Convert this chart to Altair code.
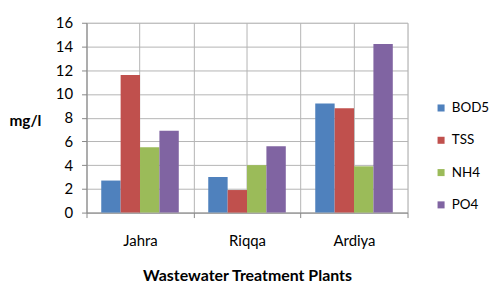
import altair as alt
import pandas as pd

plants = ["Jahra", "Riqqa", "Ardiya"]
params = ["BOD5", "TSS", "NH4", "PO4"]
bod5 = [2.7, 3.0, 9.2]
tss = [11.6, 1.9, 8.8]
nh4 = [5.5, 4.0, 3.9]
po4 = [6.9, 5.6, 14.2]
colors = ["#4F81BD", "#C0504D", "#9BBB59", "#8064A2"]

rows = []
for name, vals in zip(params, [bod5, tss, nh4, po4]):
    for p, v in zip(plants, vals):
        rows.append({"plant": p, "param": name, "value": v})
df = pd.DataFrame(rows)

FONT = "Lato"

xscale = alt.Scale(domain=plants, paddingInner=0, paddingOuter=0)

bars = alt.Chart(df).mark_bar().encode(
    x=alt.X("plant:N", scale=xscale, sort=plants,
            axis=alt.Axis(title="Wastewater Treatment Plants", labelAngle=0, orient="bottom",
                          tickBand="extent", tickExtra=True, grid=True, gridColor="#b4b4b4",
                          domainColor="#888888", tickColor="#888888", tickSize=5,
                          labelPadding=16, titlePadding=19,
                          labelFontSize=15, titleFontSize=16, labelFont=FONT,
                          titleFont=FONT, titleFontWeight="bold", labelColor="#000",
                          titleColor="#000")),
    xOffset=alt.XOffset("param:N", sort=params,
                        scale=alt.Scale(domain=params, paddingInner=0, paddingOuter=0.76)),
    y=alt.Y("value:Q", scale=alt.Scale(domain=[0, 16]),
            axis=alt.Axis(title="mg/l", values=list(range(0, 17, 2)), titleAngle=0,
                          titleX=-62, titleY=98, titleAlign="center", titleBaseline="middle",
                          grid=True, gridColor="#b4b4b4", domainColor="#888888",
                          tickColor="#888888", tickSize=5, labelPadding=9,
                          labelFontSize=15, titleFontSize=15.5, labelFont=FONT,
                          titleFont=FONT, titleFontWeight="bold", labelColor="#000",
                          titleColor="#000")),
    color=alt.Color("param:N", sort=params, scale=alt.Scale(domain=params, range=colors),
                    legend=alt.Legend(title=None, orient="none", legendX=350, legendY=79,
                                      symbolType="square", symbolSize=50,
                                      symbolStrokeWidth=0, labelFontSize=13.5, labelFont=FONT,
                                      labelColor="#000", rowPadding=17.5, labelOffset=4)),
)

centers = alt.Chart(pd.DataFrame({"plant": plants})).mark_rule(opacity=0).encode(
    x=alt.X("plant:N", scale=xscale, sort=plants,
            axis=alt.Axis(title=None, labels=False, ticks=False, domain=False,
                          grid=True, gridColor="#b4b4b4", orient="bottom")),
)

chart = alt.layer(centers, bars).resolve_axis(x="independent").properties(
    width=323, height=191,
    padding={"left": 79, "top": 14, "right": 85, "bottom": 70},
    autosize="none",
).configure_view(stroke="#b4b4b4").configure(background="white")

chart.save("out.html", embed_options={"renderer": "svg", "actions": False})
